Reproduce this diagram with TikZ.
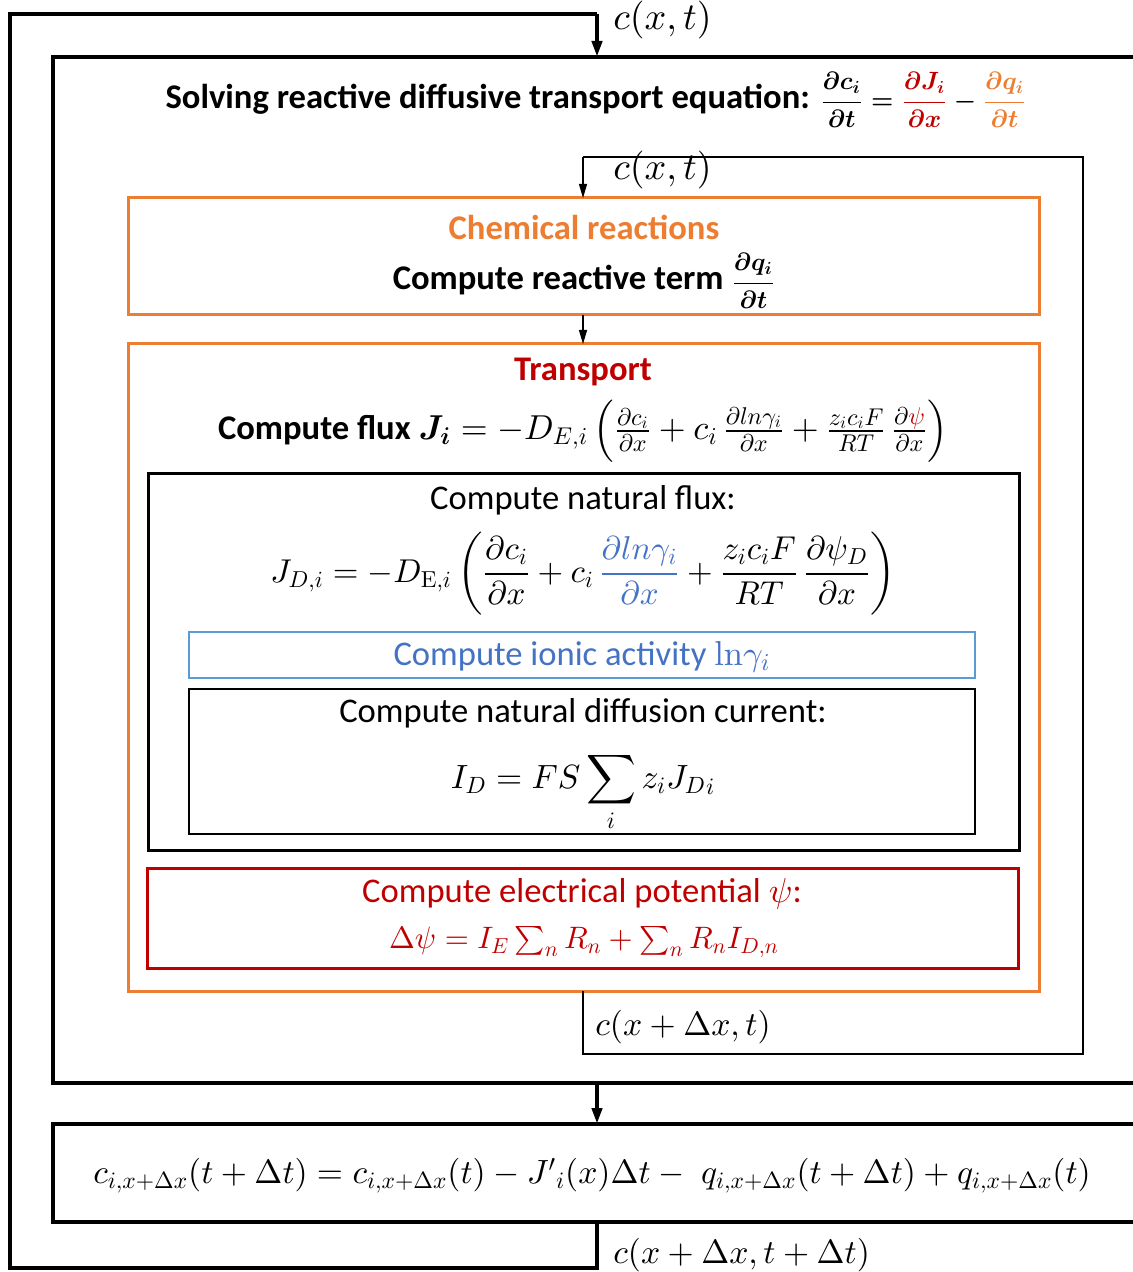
\documentclass[tikz,border=0pt]{standalone}
\usepackage{amsmath}
\usepackage{bm}
\usepackage[no-math]{fontspec}
\setmainfont{Carlito}
\DeclareFontShape{OML}{cmm}{m}{it}{<->cmmi10}{}
\DeclareFontShape{OML}{cmm}{b}{it}{<->cmmib10}{}
\DeclareFontShape{OMS}{cmsy}{m}{n}{<->cmsy10}{}
\DeclareFontShape{OMS}{cmsy}{b}{n}{<->cmbsy10}{}
\DeclareFontShape{OT1}{cmr}{m}{n}{<->cmr10}{}
\DeclareFontShape{OT1}{cmr}{bx}{n}{<->cmbx10}{}
\usetikzlibrary{arrows.meta,calc}
\definecolor{orng}{HTML}{ED7D31}
\definecolor{dred}{HTML}{C00000}
\definecolor{bblue}{HTML}{4472C4}
\definecolor{lblue}{HTML}{5B9BD5}
\newcommand{\txtsize}{\fontsize{17.3}{20}\selectfont}
\newcommand{\bigsize}{\fontsize{16.8}{20}\selectfont}
\newcommand{\natsize}{\fontsize{16.5}{20}\selectfont}
\newcommand{\potsize}{\fontsize{15.5}{18}\selectfont}
\newcommand{\fracsize}{\fontsize{12.5}{15}\selectfont}
\newcommand{\lblsize}{\fontsize{19}{21}\selectfont}
\begin{document}
\begin{tikzpicture}[x=0.5pt,y=-0.5pt,
  box/.style={draw,inner sep=0pt,outer sep=0pt},
  txt/.style={inner sep=0pt,font=\txtsize,align=center},
  heavy/.style={line width=2.2pt},
  heavyarr/.style={line width=2.2pt,-{Triangle[width=5pt,length=8pt]}},
  thinline/.style={line width=0.6pt},
  thinarr/.style={line width=0.6pt,-{Triangle[width=4pt,length=7pt]}},
  lbl/.style={inner sep=0pt,anchor=west,font=\bigsize}]
\useasboundingbox (0,0) rectangle (1133,1272);
\fill[white] (0,0) rectangle (1133,1272);
% boxes
\node[box,heavy,minimum width=553.5pt,minimum height=513pt] (main) at (606.5,570) {};
\node[box,line width=1.5pt,draw=orng,minimum width=455.5pt,minimum height=58.5pt] (chem) at (583.5,256.5) {};
\node[box,line width=1.5pt,draw=orng,minimum width=455.5pt,minimum height=323.5pt] (trans) at (583.5,667.5) {};
\node[box,line width=1.5pt,minimum width=435.5pt,minimum height=188.5pt] (nat) at (583.5,661.5) {};
\node[box,line width=1pt,draw=lblue,minimum width=393pt,minimum height=23pt] (ionic) at (582,655) {};
\node[box,line width=1pt,minimum width=393pt,minimum height=72.5pt] (curr) at (582,761.5) {};
\node[box,line width=1.5pt,draw=dred,minimum width=435.5pt,minimum height=50pt] (pot) at (582.5,918) {};
\node[box,heavy,minimum width=553.5pt,minimum height=49pt] (bot) at (606.5,1173) {};
% texts
\node[txt,font=\txtsize\bfseries] (title) at (596,100) {Solving reactive diffusive transport equation: {\fracsize\boldmath$\dfrac{\partial c_i}{\partial t} = \textcolor{dred}{\dfrac{\partial J_i}{\partial x}} - \textcolor{orng}{\dfrac{\partial q_i}{\partial t}}$}};
\node[txt,font=\txtsize\bfseries,text=orng] (chemT) at (584,227) {Chemical reactions};
\node[txt,font=\txtsize\bfseries] (chemR) at (584,281) {Compute reactive term {\fracsize\boldmath$\dfrac{\partial q_i}{\partial t}$}};
\node[txt,font=\txtsize\bfseries,text=dred] (transT) at (583,372) {Transport};
\node[txt] (flux) at (583,431) {\textbf{Compute flux} $\bm{J_i} = -D_{E,i}\left(\frac{\partial c_i}{\partial x} + c_i\,\frac{\partial ln\gamma_i}{\partial x} + \frac{z_i c_i F}{RT}\,\frac{\partial \textcolor{dred}{\psi}}{\partial x}\right)$};
\node[txt] (natT) at (583,500) {Compute natural flux:};
\node[txt,font=\natsize] (natEq) at (583,574) {$J_{D,i} = -D_{\mathrm{E},i}\left(\dfrac{\partial c_i}{\partial x} + c_i\, \textcolor{bblue}{\dfrac{\partial ln\gamma_i}{\partial x}} + \dfrac{z_i c_i F}{RT}\,\dfrac{\partial \psi_D}{\partial x}\right)$};
\node[txt,text=bblue] (ionT) at (582,657) {Compute ionic activity $\mathrm{ln}\gamma_i$};
\node[txt] (curT) at (583,713) {Compute natural diffusion current:};
\node[txt,font=\bigsize] (curEq) at (583,792) {$\displaystyle I_D = FS\sum_i z_i {J_D}_i$};
\node[txt,text=dred] (potT) at (582,894) {Compute electrical potential $\psi$:};
\node[txt,text=dred,font=\potsize] (potEq) at (584,942) {$\Delta\psi = I_E \textstyle\sum_n R_n + \sum_n R_n I_{D,n}$};
\node[txt,font=\bigsize] (botEq) at (592,1176) {$c_{i,x+\Delta x}(t+\Delta t) = c_{i,x+\Delta x}(t) - {J'}_i(x)\Delta t - \; q_{i,x+\Delta x}(t+\Delta t) + q_{i,x+\Delta x}(t)$};
% loop coordinates
\coordinate (ax) at (597,0);
\coordinate (oBL) at (10,1268);
\coordinate (oTL) at (10,14);
\coordinate (ix) at (583,0);
\coordinate (iTR) at (1083,157);
\coordinate (iBR) at (1083,1054);
% connectors
\draw[heavyarr] (oTL -| ax) -- (main.north -| ax);
\draw[heavy] (bot.south -| ax) -- (ax |- oBL) -- (oBL) -- (oTL) -- (oTL -| ax);
\draw[heavyarr] (main.south -| ax) -- (bot.north -| ax);
\draw[thinline] (trans.south -| ix) -- (ix |- iBR) -- (iBR) -- (iTR) -- (iTR -| ix);
\draw[thinarr] (iTR -| ix) -- (chem.north -| ix);
\draw[thinarr] (chem.south -| ix) -- (trans.north -| ix);
% labels
\node[lbl,font=\lblsize] (l1) at (613,20) {$c(x,t)$};
\node[lbl,font=\lblsize] (l2) at (613,170) {$c(x,t)$};
\node[lbl] (l3) at (595,1027) {$c(x+\Delta x,t)$};
\node[lbl] (l4) at (613,1255) {$c(x+\Delta x,t+\Delta t)$};
\end{tikzpicture}
\end{document}
